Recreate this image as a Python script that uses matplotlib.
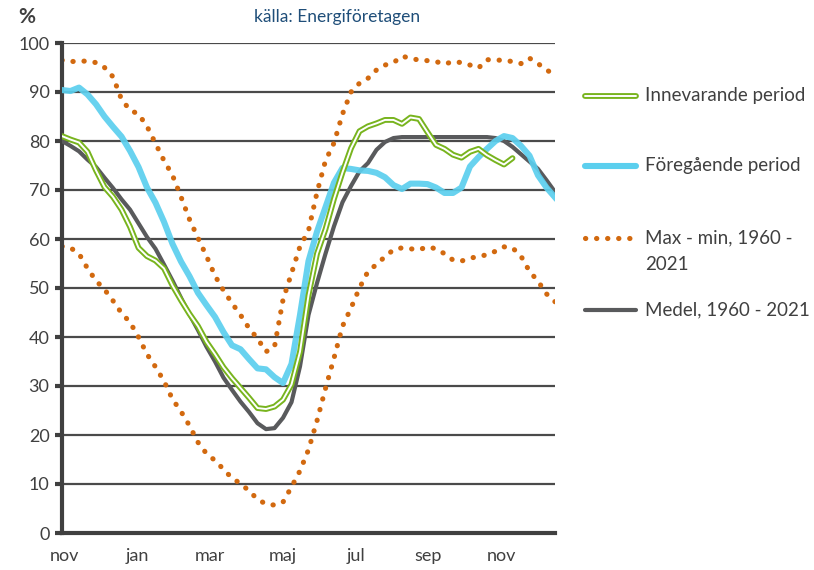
import numpy as np
import matplotlib
matplotlib.use("Agg")
import matplotlib.pyplot as plt
from matplotlib.lines import Line2D

plt.rcParams['font.family'] = ['Lato', 'DejaVu Sans']

# -----------------------------
# Data (weekly values, % of max magazine fill)
# -----------------------------
months = ["nov", "jan", "mar", "maj", "jul", "sep", "nov"]

innevarande = [81.0, 80.3, 79.7, 77.8, 74.0, 70.6, 68.6, 66.0, 62.5, 58.2,
               56.5, 55.6, 54.0, 50.5, 47.5, 44.7, 42.2, 39.0, 36.5, 33.8,
               31.6, 29.6, 27.6, 25.5, 25.3, 25.8, 27.2, 30.3, 37.0, 48.5,
               57.0, 62.0, 68.2, 73.6, 78.5, 82.0, 83.0, 83.6, 84.3, 84.3,
               83.5, 84.8, 84.5, 81.8, 79.2, 78.4, 77.2, 76.6, 77.8, 78.4,
               77.1, 76.1, 75.2, 76.5]

foregaende = [90.4, 90.2, 90.9, 89.5, 87.5, 85.0, 82.9, 80.9, 78.0, 74.7,
              70.5, 67.4, 63.5, 59.0, 55.4, 52.4, 49.0, 46.5, 44.1, 41.0,
              38.3, 37.5, 35.5, 33.6, 33.4, 31.8, 30.6, 34.5, 44.5, 55.5,
              61.5, 66.5, 71.5, 74.5, 74.3, 74.0, 73.9, 73.5, 72.6, 71.0,
              70.2, 71.3, 71.3, 71.2, 70.5, 69.4, 69.4, 70.5, 74.8, 76.7,
              78.4, 80.0, 81.0, 80.6, 79.0, 77.0, 73.0, 70.5, 68.5]

maxvarde = [96.5, 96.2, 96.3, 96.3, 96.0, 95.0, 93.1, 88.5, 86.3, 85.5,
            83.0, 79.5, 76.0, 73.0, 68.6, 64.0, 60.2, 56.5, 52.5, 49.5,
            46.9, 44.5, 41.8, 39.7, 37.0, 38.0, 47.6, 53.0, 58.5, 61.7,
            69.5, 76.0, 79.6, 85.5, 90.0, 91.8, 92.8, 94.5, 95.5, 96.0,
            97.3, 96.9, 96.5, 96.4, 96.2, 95.7, 96.2, 96.0, 95.5, 94.9,
            96.6, 96.5, 96.5, 96.2, 95.8, 96.9, 95.8, 94.5, 93.5]

minvarde = [58.5, 58.2, 57.0, 54.0, 51.5, 49.7, 47.4, 44.9, 43.0, 40.0,
            36.5, 33.9, 31.0, 27.3, 24.8, 21.9, 18.5, 16.2, 14.8, 13.0,
            11.2, 10.1, 8.6, 6.9, 5.9, 5.7, 6.3, 9.4, 12.7, 17.0,
            22.9, 29.5, 35.7, 42.2, 45.9, 50.0, 53.4, 54.8, 56.4, 57.8,
            58.2, 58.0, 57.8, 58.4, 58.0, 57.0, 55.7, 55.5, 56.1, 56.4,
            56.8, 57.5, 58.4, 58.2, 56.5, 53.4, 51.4, 48.8, 47.2]

medel = [80.0, 79.0, 77.9, 76.2, 74.7, 72.5, 70.4, 68.1, 66.0, 63.2,
         60.4, 58.0, 54.8, 51.5, 48.0, 44.6, 41.4, 38.0, 35.0, 31.7,
         29.2, 26.8, 24.7, 22.4, 21.2, 21.4, 23.5, 26.7, 34.0, 44.5,
         51.0, 57.0, 62.6, 67.5, 70.8, 73.8, 75.5, 78.2, 79.8, 80.6,
         80.8, 80.8, 80.8, 80.8, 80.8, 80.8, 80.8, 80.8, 80.8, 80.8,
         80.8, 80.6, 80.0, 78.8, 77.3, 75.8, 74.3, 72.0, 69.6]

# -----------------------------
# Styles
# -----------------------------
GREEN = "#78B41E"
BLUE = "#5BCFEE"
ORANGE = "#D2690F"
GREY = "#595A5C"
TEXT = "#404040"

fig = plt.figure(figsize=(8.14, 5.70), dpi=100)
ax = fig.add_axes([62 / 814, 1 - 533 / 570, (555 - 62) / 814, (533 - 43) / 570])

w_long = np.arange(len(maxvarde))
w_cur = np.arange(len(innevarande))

# gridlines
for v in range(10, 101, 10):
    ax.axhline(v, color="#4a4a4a", lw=1.6, zorder=1)

dot_kw = dict(color=ORANGE, lw=3.7, linestyle=(0, (0.05, 2.1)),
              dash_capstyle="round", zorder=2)
ax.plot(w_long, maxvarde, **dot_kw)
ax.plot(w_long, minvarde, **dot_kw)
ax.plot(w_long, medel, color=GREY, lw=3.0, zorder=3, solid_joinstyle="round")
ax.plot(w_long, foregaende, color=BLUE, lw=4.4, alpha=0.92, zorder=4,
        solid_joinstyle="round")
ax.plot(w_cur, innevarande, color=GREEN, lw=4.2, zorder=5,
        solid_joinstyle="round", solid_capstyle="round")
ax.plot(w_cur, innevarande, color="white", lw=1.4, zorder=6,
        solid_joinstyle="round", solid_capstyle="round")

ax.set_xlim(0, len(maxvarde) - 1)
ax.set_ylim(0, 100)
ax.set_yticks(range(0, 101, 10))
ax.set_xticks([0.3 + 8.56 * k for k in range(len(months))])
ax.set_xticklabels(months)

for s in ["top", "right"]:
    ax.spines[s].set_visible(False)
ax.spines["left"].set_linewidth(3.0)
ax.spines["left"].set_color(TEXT)
ax.spines["bottom"].set_linewidth(3.0)
ax.spines["bottom"].set_color(TEXT)
ax.tick_params(axis="y", length=5, width=3, color=TEXT, labelsize=13,
               labelcolor=TEXT, pad=4)
ax.tick_params(axis="x", length=0, labelsize=13, labelcolor=TEXT, pad=11)

fig.text(18 / 814, 1 - 17 / 570, "%", fontsize=15, fontweight="bold",
         color=TEXT, va="center", ha="left")
fig.text(337 / 814, 1 - 17 / 570, "källa: Energiföretagen", fontsize=12.5,
         color="#1F4E79", va="center", ha="center")

# -----------------------------
# Legend (drawn beside the plot)
# -----------------------------
x0, x1, xt = 585 / 814, 636 / 814, 645 / 814

def ly(py):
    return 1 - py / 570

fig.add_artist(Line2D([x0, x1], [ly(96)] * 2, color=GREEN, lw=4.2,
                      solid_capstyle="round"))
fig.add_artist(Line2D([x0, x1], [ly(96)] * 2, color="white", lw=1.4,
                      solid_capstyle="round"))
fig.add_artist(Line2D([x0, x1], [ly(166)] * 2, color=BLUE, lw=4.4,
                      solid_capstyle="round"))
fig.add_artist(Line2D([x0, x1 + 0.004], [ly(238)] * 2, **dot_kw))
fig.add_artist(Line2D([x0, x1], [ly(310)] * 2, color=GREY, lw=3.0,
                      solid_capstyle="round"))

leg_txt = dict(fontsize=13.5, color=TEXT, va="center", ha="left")
fig.text(xt, ly(96), "Innevarande period", **leg_txt)
fig.text(xt, ly(166), "Föregående period", **leg_txt)
fig.text(xt, ly(238), "Max - min, 1960 -", **leg_txt)
fig.text(xt, ly(264), "2021", **leg_txt)
fig.text(xt, ly(310), "Medel, 1960 - 2021", **leg_txt)

fig.savefig("out.png", dpi=100)
